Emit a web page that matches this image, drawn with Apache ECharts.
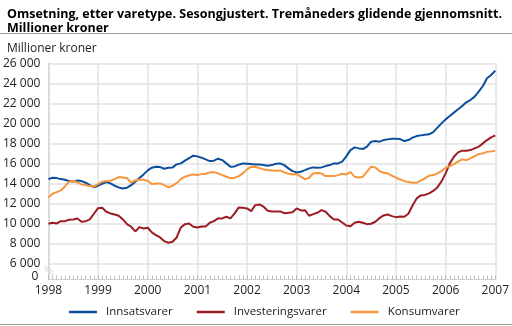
<!DOCTYPE html>
<html>
<head>
<meta charset="utf-8">
<script src="https://cdn.jsdelivr.net/npm/echarts@6/dist/echarts.min.js"></script>
<style>
html,body{margin:0;padding:0;background:#fff;}
#chart{width:512px;height:326px;}
</style>
</head>
<body>
<div id="chart"></div>
<script>
const years = [1998, 1999, 2000, 2001, 2002, 2003, 2004, 2005, 2006, 2007];
const yTickLabels = ['0', '6 000', '8 000', '10 000', '12 000', '14 000', '16 000', '18 000', '20 000', '22 000', '24 000', '26 000'];
const seriesNames = ['Innsatsvarer', 'Investeringsvarer', 'Konsumvarer'];

const innsatsvarer = [
  14430, 14570, 14530, 14430, 14370, 14230, 14200, 14300, 14230, 14070, 13830, 13630,
  13770, 13970, 14130, 14000, 13770, 13600, 13500, 13570, 13830, 14170, 14530, 14900,
  15300, 15570, 15670, 15630, 15470, 15570, 15600, 15900, 16000, 16270, 16530, 16770,
  16700, 16570, 16400, 16230, 16270, 16470, 16330, 16000, 15670, 15700, 15870, 16000,
  15970, 15930, 15900, 15900, 15830, 15770, 15830, 15970, 16000, 15830, 15500, 15230,
  15100, 15170, 15330, 15500, 15600, 15570, 15600, 15730, 15830, 16000, 16000, 16170,
  16700, 17330, 17600, 17500, 17430, 17670, 18170, 18230, 18170, 18330, 18400, 18470,
  18470, 18430, 18230, 18330, 18570, 18730, 18800, 18870, 18900, 19130, 19570, 20000,
  20400, 20730, 21070, 21400, 21730, 22100, 22330, 22670, 23170, 23730, 24500, 24830,
  25270
];
const investeringsvarer = [
  9970, 10070, 10000, 10230, 10230, 10370, 10400, 10500, 10170, 10230, 10400, 10970,
  11530, 11570, 11170, 11000, 10900, 10770, 10400, 9930, 9670, 9200, 9630, 9500,
  9570, 9100, 8830, 8600, 8230, 8070, 8170, 8600, 9600, 9930, 10000, 9670,
  9600, 9700, 9700, 10070, 10230, 10500, 10500, 10670, 10500, 11000, 11600, 11570,
  11500, 11230, 11830, 11900, 11670, 11270, 11200, 11200, 11200, 11030, 11070, 11130,
  11500, 11300, 11330, 10770, 10930, 11070, 11330, 11170, 10730, 10400, 10400, 10100,
  9800, 9730, 10070, 10170, 10070, 9930, 9970, 10170, 10530, 10800, 10900, 10730,
  10630, 10700, 10670, 10970, 11800, 12500, 12800, 12850, 13000, 13250, 13600, 14200,
  15000, 16000, 16670, 17100, 17270, 17270, 17330, 17500, 17670, 18000, 18330, 18600,
  18800
];
const konsumvarer = [
  12600, 12970, 13130, 13300, 13700, 14170, 14270, 14100, 13900, 13830, 13730, 13700,
  13930, 14170, 14230, 14270, 14430, 14630, 14600, 14530, 14070, 14300, 14400, 14370,
  14270, 13930, 14000, 14000, 13830, 13600, 13770, 14030, 14430, 14670, 14800, 14900,
  14830, 14930, 14970, 15100, 15130, 15000, 14830, 14670, 14530, 14570, 14730, 15000,
  15400, 15670, 15630, 15530, 15400, 15330, 15300, 15270, 15300, 15100, 14970, 14900,
  14930, 14670, 14400, 14570, 15000, 15030, 15000, 14730, 14730, 14730, 14830, 14970,
  14900, 15130, 14670, 14600, 14670, 15170, 15670, 15600, 15230, 15070, 15000, 14770,
  14570, 14400, 14230, 14130, 14070, 14070, 14270, 14500, 14770, 14830, 15000, 15230,
  15570, 15730, 15930, 16170, 16400, 16330, 16500, 16730, 16930, 17000, 17150, 17200,
  17250
];

// monthly categories Jan 1998 .. Jan 2007
const months = [];
years.forEach(function (y, i) {
  const n = (i === years.length - 1) ? 1 : 12;
  for (let m = 1; m <= n; m++) months.push(y + '-' + (m < 10 ? '0' : '') + m);
});

const FONT = '"Open Sans", sans-serif';
const GRID = '#e2e2e2';
const Y_BOTTOM = 4400;   // visual position of the broken-axis "0"
const Y_STEP = 2000;
const colors = ['#0b4f9c', '#9c1c23', '#f7953a'];

const yLabelValues = yTickLabels.map(function (t, i) { return i === 0 ? Y_BOTTOM : 6000 + (i - 1) * Y_STEP; });

const chart = echarts.init(document.getElementById('chart'), null, {renderer: 'canvas'});
const clear = 'rgba(0,0,0,0)';

const titles = [{
  text: 'Omsetning, etter varetype. Sesongjustert. Tremåneders glidende gjennomsnitt.\nMillioner kroner',
  left: 2, top: 2,
  textStyle: {fontFamily: FONT, fontSize: 12.5, fontWeight: 'bold', color: '#000', lineHeight: 14}
}, {
  text: 'Millioner kroner',
  left: 2, top: 38,
  textStyle: {fontFamily: FONT, fontSize: 12, fontWeight: 'normal', color: '#222'}
}];

chart.setOption({
  animation: false,
  textStyle: {fontFamily: FONT},
  title: titles,
  grid: {left: 44, right: 11.5, top: 63.3, bottom: 46.5, containLabel: false},
  legend: {
    top: 306, left: 69, padding: 0,
    icon: 'rect',
    itemWidth: 28, itemHeight: 2.5, itemGap: 24,
    textStyle: {fontFamily: FONT, fontSize: 11.5, color: '#222', padding: [0, 0, 0, 4]},
    data: seriesNames
  },
  xAxis: {
    type: 'category', data: months, boundaryGap: false,
    axisLine: {show: true, lineStyle: {color: '#cfcfcf', width: 1}},
    axisTick: {show: true, interval: 0, inside: true, length: 4, lineStyle: {color: '#bdbdbd'}},
    axisLabel: {
      interval: function (i) { return i % 12 === 0; },
      formatter: function (v) { return v.slice(0, 4); },
      fontFamily: FONT, fontSize: 12, color: '#222', margin: 5
    },
    splitLine: {show: true, interval: function (i) { return i % 12 === 0; }, lineStyle: {color: GRID, width: 1.5}}
  },
  yAxis: {
    type: 'value', min: Y_BOTTOM, max: 26000, interval: 400,
    axisLine: {show: true, lineStyle: {color: '#d6d6d6', width: 1.5}},
    axisTick: {show: false},
    axisLabel: {
      fontFamily: FONT, fontSize: 12, color: '#222', margin: 8,
      customValues: yLabelValues.slice(1),
      formatter: function (v) {
        const k = yLabelValues.indexOf(v);
        return k >= 0 ? yTickLabels[k] : '';
      }
    },
    splitLine: {show: true, lineStyle: {color: [clear, clear, clear, clear, GRID], width: 1.5}}
  },
  series: seriesNames.map(function (name, i) {
    return {
      name: name, type: 'line', symbol: 'none',
      data: [innsatsvarer, investeringsvarer, konsumvarer][i],
      lineStyle: {width: 2, color: colors[i]}, itemStyle: {color: colors[i]}
    };
  })
});

// broken-axis "0" label and break marks, placed through the axis scale
const y0 = chart.convertToPixel({yAxisIndex: 0}, Y_BOTTOM);
const y6 = chart.convertToPixel({yAxisIndex: 0}, 6000);
const ax = chart.convertToPixel({xAxisIndex: 0}, 0);
const yb = (y0 + y6) / 2;
chart.setOption({
  title: titles.concat([{
    text: yTickLabels[0], left: ax - 17, top: y0 - 9, padding: 0,
    textStyle: {fontFamily: FONT, fontSize: 12, fontWeight: 'normal', color: '#222'}
  }]),
  graphic: [
    {type: 'line', shape: {x1: 0, y1: 33.5, x2: 512, y2: 33.5}, style: {stroke: '#9a9a9a', lineWidth: 1}},
    {type: 'line', shape: {x1: 0, y1: 324.5, x2: 512, y2: 324.5}, style: {stroke: '#9a9a9a', lineWidth: 1}},
    {type: 'rect', shape: {x: ax - 2, y: yb - 3, width: 4, height: 5}, style: {fill: '#fff'}},
    {type: 'line', shape: {x1: ax - 4, y1: yb - 5.5, x2: ax + 5, y2: yb + 0.5}, style: {stroke: '#cfcfcf', lineWidth: 1}},
    {type: 'line', shape: {x1: ax - 4, y1: yb - 2.5, x2: ax + 5, y2: yb + 3.5}, style: {stroke: '#cfcfcf', lineWidth: 1}}
  ]
});
</script>
</body>
</html>
